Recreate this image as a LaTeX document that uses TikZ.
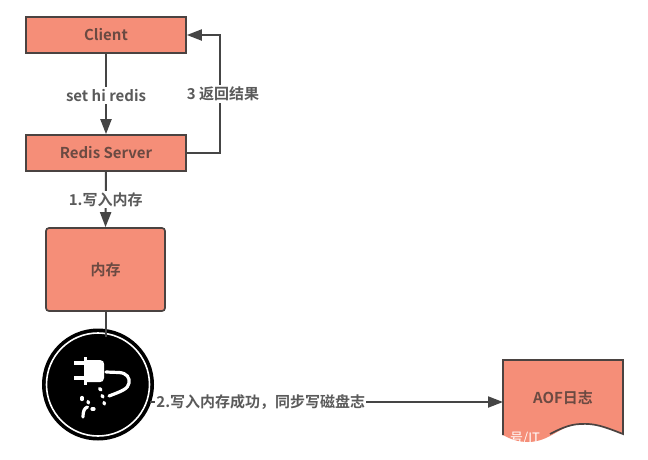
\documentclass[tikz,border=0pt]{standalone}
\usepackage{fontspec}
\setmainfont{Noto Sans CJK SC}[BoldFont={Noto Sans CJK SC Bold}]
\usetikzlibrary{arrows.meta}
\definecolor{boxfill}{HTML}{F58E78}
\definecolor{boxline}{HTML}{4A4341}
\definecolor{boxtext}{HTML}{6B4A42}
\definecolor{linecol}{HTML}{454545}
\definecolor{labelcol}{HTML}{5A5A5A}
\tikzset{
 x=1pt,y=-1pt,
 box/.style={draw=boxline,line width=1.7pt,fill=boxfill,text=boxtext,font=\fontsize{15}{18}\selectfont\bfseries,minimum width=160pt,minimum height=36pt,inner sep=0pt},
 link/.style={draw=linecol,line width=2pt},
 arr/.style={link,-{Triangle[length=15pt,width=11pt]}},
 lab/.style={fill=white,text=labelcol,font=\fontsize{15}{18}\selectfont\bfseries,inner sep=1pt},
 plug/.style={draw=white,line width=3.2pt,line cap=round},
}
\begin{document}
\begin{tikzpicture}
\useasboundingbox (0,0) rectangle (648,459);
\fill[white] (0,0) rectangle (648,459);
\node[box] (client) at (106,35) {Client};
\node[box] (server) at (106,153) {Redis Server};
\node[box,minimum width=119pt,minimum height=83pt,rounded corners=3pt] (mem) at (105.5,269.5) {内存};
\node[circle,fill=black,minimum size=112pt,inner sep=0pt] (fail) at (98,384.5) {};
\draw[white,line width=1.6pt] (fail.center) circle[radius=51.5];
% AOF document shape
\coordinate (aofin) at (503,402);
\coordinate (failout) at (150,402);
\coordinate (memin) at (105.5,337);
\fill[boxfill] (503,360) -- (623,360) -- (623,434) .. controls (605,427) and (595,423) .. (580,424) .. controls (560,425) and (550,442) .. (528,442) .. controls (518,442) and (510,439) .. (503,435) -- cycle;
\draw[boxline,line width=1.7pt] (503,435) -- (503,360) -- (623,360) -- (623,434) .. controls (605,427) and (595,423) .. (580,424) .. controls (568,424.5) and (558,430) .. (550,434);
\node[text=boxtext,font=\fontsize{15}{18}\selectfont\bfseries,inner sep=0pt] (aoftext) at (563,398) {AOF日志};
\node[text=white,font=\fontsize{13}{15}\selectfont,inner sep=0pt,anchor=west] (mark) at (510,438) {号/IT};
% connectors
\draw[arr] (client.south) -- node[lab,pos=0.52,inner ysep=2pt] (l1) {set hi redis} (server.north);
\coordinate (retcorner) at (220,153);
\coordinate (retcorner2) at (220,35);
\draw[arr] (server.east) -- (retcorner) -- node[lab,pos=0.5,inner ysep=2pt,xshift=3pt] (l2) {3 返回结果} (retcorner2) -- (client.east);
\draw[arr] (server.south) -- node[lab,pos=0.5] (l3) {1.写入内存} (mem.north);
\draw[link] (mem.south) -- (memin);
\draw[arr] (failout) -- node[lab,pos=0.314,inner xsep=1pt] (l4) {2.写入内存成功，同步写磁盘志} (aofin);
% plug icon
\fill[white] (85,360) -- (100,360) .. controls (103,360) and (104,362) .. (104,364) -- (104,378) .. controls (104,381) and (102,382) .. (100,382) -- (85,382) -- cycle;
\draw[plug,line cap=butt] (85.5,357) -- (85.5,385);
\draw[plug,line cap=butt] (74,363) -- (85,363);
\draw[plug,line cap=butt] (74,378) -- (85,378);
\draw[plug] (106,372) -- (119,372.5) .. controls (127,373) and (130,378) .. (129,383) .. controls (128,389) and (122,391) .. (109,396);
\draw[plug] (99.5,388.5) -- (101,390);
\draw[plug] (102,395.5) -- (103,397);
\draw[plug] (104,402.5) -- (104.5,404);
\draw[plug] (82,397.5) -- (82,399.5);
\draw[plug] (88,401.5) -- (88.5,403);
\draw[plug] (92,409) -- (94,409);
\draw[plug] (87.5,407) .. controls (84,408) and (83,412) .. (83,417);
\end{tikzpicture}
\end{document}
